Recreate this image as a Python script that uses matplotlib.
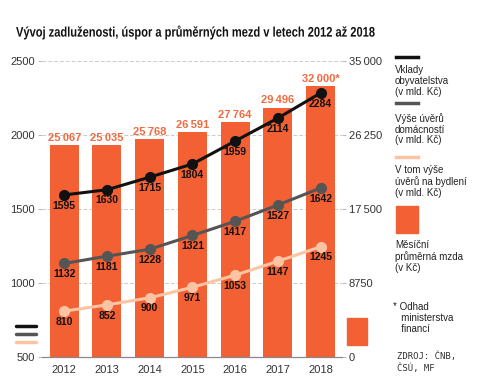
import numpy as np
import matplotlib.pyplot as plt
from matplotlib.patheffects import AbstractPathEffect
from matplotlib.transforms import Affine2D

plt.rcParams['font.family'] = ['Liberation Sans', 'DejaVu Sans']

# data
years = ['2012', '2013', '2014', '2015', '2016', '2017', '2018']
mzda = [25067, 25035, 25768, 26591, 27764, 29496, 32000]
mzda_labels = ['25\u2009067', '25\u2009035', '25\u2009768', '26\u2009591', '27\u2009764', '29\u2009496', '32\u2009000*']
vklady = [1595, 1630, 1715, 1804, 1959, 2114, 2284]
uvery = [1132, 1181, 1228, 1321, 1417, 1527, 1642]
bydleni = [810, 852, 900, 971, 1053, 1147, 1245]

left_ticks = [500, 1000, 1500, 2000, 2500]
right_ticks = [0, 8750, 17500, 26250, 35000]
right_labels = ['0', '8750', '17\u2009500', '26\u2009250', '35\u2009000']

orange = '#f26034'
orange_txt = '#f26a3f'
c_vklady = '#111111'
c_uvery = '#555555'
c_bydleni = '#fdc4a3'


# squeeze text horizontally (title font in the reference is very condensed)
class Squeeze(AbstractPathEffect):
    def __init__(self, x0, sx):
        super().__init__()
        self.x0 = x0
        self.sx = sx

    def draw_path(self, renderer, gc, tpath, affine, rgbFace=None):
        extra = Affine2D().translate(-self.x0, 0).scale(self.sx, 1).translate(self.x0, 0)
        renderer.draw_path(gc, tpath, affine + extra, rgbFace)


fig = plt.figure(figsize=(4.8, 3.91), dpi=100)
ax2 = fig.add_axes([0.0875, 0.087, 0.625, 0.757])  # bars, right scale
ax = ax2.twinx()
ax.yaxis.tick_left()
ax2.yaxis.tick_right()

x = np.arange(len(years))

# bars
ax2.bar(x, mzda, width=0.68, color=orange, zorder=2)
for xi, v, lab in zip(x, mzda, mzda_labels):
    ax2.text(xi, v + 250, lab, ha='center', va='bottom', color=orange_txt,
             fontsize=8, fontweight='bold')
ax2.set_ylim(0, 35000)
ax2.set_yticks(right_ticks)
ax2.set_yticklabels(right_labels)
ax2.grid(axis='y', color='#cccccc', linestyle=(0, (4, 2)), linewidth=0.7, zorder=0)
ax2.set_axisbelow(True)

# lines
for vals, c in [(vklady, c_vklady), (uvery, c_uvery), (bydleni, c_bydleni)]:
    ax.plot(x, vals, color=c, linewidth=2.2, marker='o', markersize=7, zorder=3)
    for xi, v in zip(x, vals):
        ax.text(xi, v - 38, str(v), ha='center', va='top', color='#111111',
                fontsize=7.5, fontweight='bold', zorder=4)
ax.set_ylim(500, 2500)
ax.set_yticks(left_ticks)
ax.set_xlim(-0.52, 6.5)
ax.set_xticks(x)
ax2.set_xticks(x)
ax2.set_xticklabels(years)

for a in (ax, ax2):
    for s in ['top', 'left', 'right']:
        a.spines[s].set_visible(False)
    a.spines['bottom'].set_color('#888888')
    a.tick_params(axis='y', length=3, color='#bbbbbb', labelsize=8, labelcolor='#333333', pad=2)
    a.tick_params(axis='x', length=0, labelsize=8, labelcolor='#333333', pad=6)

# title
title_x = 16
title = fig.text(title_x / 480, 0.918, 'Vývoj zadluženosti, úspor a průměrných mezd v letech 2012 až 2018',
                 fontsize=10, fontweight='bold', ha='left', va='center', color='#111111')
fig.canvas.draw()
w = title.get_window_extent().width
title.set_path_effects([Squeeze(title_x, 359 / w)])

# small legend marks at left
for yy, c in [(326, c_vklady), (334, c_uvery), (342, c_bydleni)]:
    fig.add_artist(plt.Line2D([16 / 480, 36 / 480], [1 - yy / 391, 1 - yy / 391],
                              color=c, linewidth=2.5, solid_capstyle='round'))
fig.add_artist(plt.Rectangle((347 / 480, 1 - 345 / 391), 20 / 480, 27 / 391, color=orange))

# right legend
lx = 396 / 480
tx = 395 / 480
items = [(57, c_vklady, 'Vklady\nobyvatelstva\n(v mld. Kč)', 65),
         (103, c_uvery, 'Výše úvěrů\ndomácností\n(v mld. Kč)', 113),
         (157, c_bydleni, 'V tom výše\núvěrů na bydlení\n(v mld. Kč)', 165)]
for yl, c, txt, yt in items:
    fig.add_artist(plt.Line2D([lx, 418 / 480], [1 - yl / 391, 1 - yl / 391], color=c, linewidth=2.5))
    fig.text(tx, 1 - yt / 391, txt, fontsize=7, va='top', ha='left', color='#222222', linespacing=1.1)
fig.add_artist(plt.Rectangle((lx, 1 - 233 / 391), 22 / 480, 27 / 391, color=orange))
fig.text(tx, 1 - 240 / 391, 'Měsíční\nprůměrná mzda\n(v Kč)', fontsize=7, va='top', ha='left',
         color='#222222', linespacing=1.1)
fig.text(tx - 0.004, 1 - 302 / 391, '* Odhad\n   ministerstva\n   financí', fontsize=7, va='top', ha='left',
         color='#222222', linespacing=1.1)
fig.text(tx + 0.004, 1 - 351 / 391, 'ZDROJ: ČNB,\nČSÚ, MF', fontsize=6.5, va='top', ha='left',
         color='#333333', family='DejaVu Sans Mono', linespacing=1.4)

fig.savefig('out.png', dpi=100)
